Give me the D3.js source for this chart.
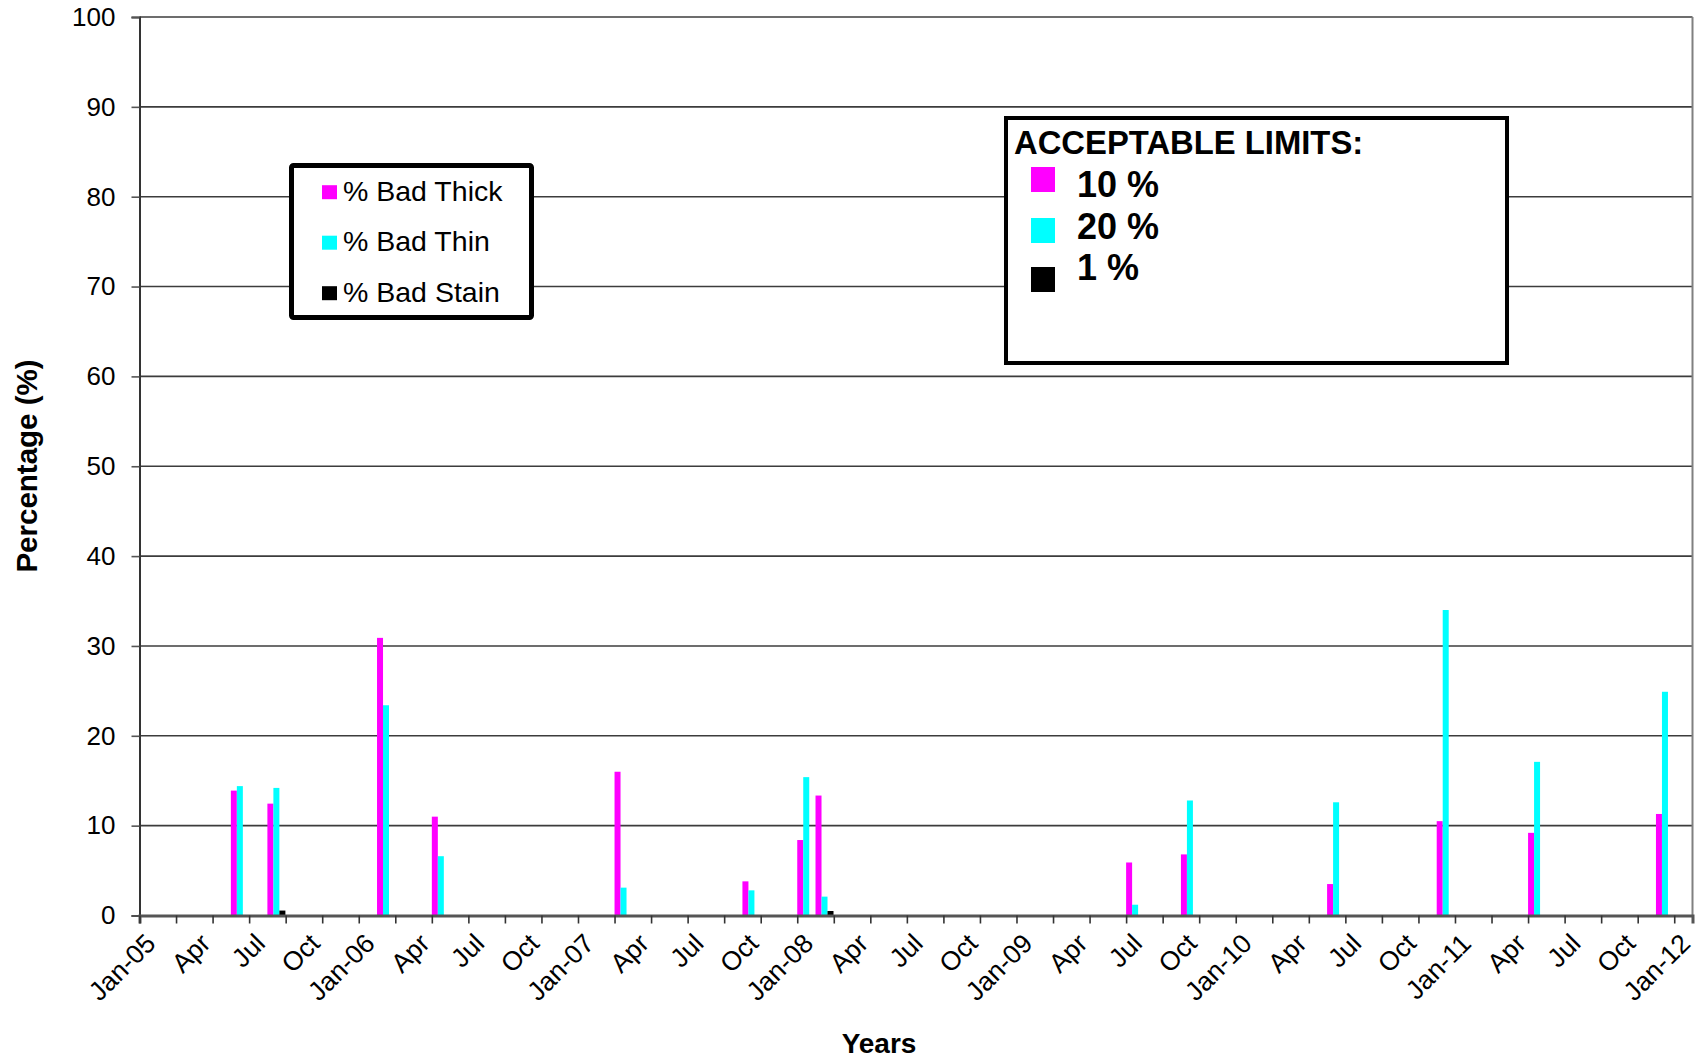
<!DOCTYPE html>
<html>
<head>
<meta charset="utf-8">
<script src="https://cdn.jsdelivr.net/npm/d3@7"></script>
<style>
  html, body { margin: 0; padding: 0; background: #fff; }
  svg { display: block; font-family: "Liberation Sans", Arial, sans-serif; }
</style>
</head>
<body>
<svg id="chart" width="1704" height="1062"></svg>
<script>
// ---------- data ----------
const seriesNames = ["% Bad Thick", "% Bad Thin", "% Bad Stain"];
const seriesColors = ["#FF00FF", "#00FFFF", "#000000"];
const sampleMonths = ["2005-06","2005-08","2006-02","2006-05","2007-03","2007-10","2008-01",
                      "2008-02","2009-07","2009-10","2010-06","2010-12","2011-05","2011-12"];
const badThick = [13.9, 12.45, 30.9, 11.0, 16.0, 3.8, 8.4, 13.35, 5.9, 6.8, 3.5, 10.5, 9.2, 11.3];
const badThin  = [14.4, 14.2, 23.4, 6.6, 3.1, 2.8, 15.4, 2.1, 1.2, 12.8, 12.6, 34.0, 17.1, 24.9];
const badStain = [0, 0.55, 0, 0, 0, 0, 0, 0.5, 0, 0, 0, 0, 0, 0];
const xTickLabels = ["Jan-05","Apr","Jul","Oct","Jan-06","Apr","Jul","Oct","Jan-07","Apr","Jul","Oct",
                     "Jan-08","Apr","Jul","Oct","Jan-09","Apr","Jul","Oct","Jan-10","Apr","Jul","Oct",
                     "Jan-11","Apr","Jul","Oct","Jan-12"];
const yTicks = [0,10,20,30,40,50,60,70,80,90,100];
const limitLabels = ["10 %", "20 %", "1 %"];

// ---------- layout ----------
const svg = d3.select("#chart");
const L = 139.5, R = 1692.5, T = 17, B = 915.5;
const fmt = d3.timeFormat("%Y-%m");
const monthKeys = d3.timeMonth.range(new Date(2005, 0, 1), new Date(2012, 1, 1)).map(fmt); // 85 categories

const x = d3.scaleBand().domain(monthKeys).range([L, R]).paddingInner(0).paddingOuter(0);
const xIdx = d3.scaleLinear().domain([0, monthKeys.length]).range([L, R]);
const xSub = d3.scaleBand().domain(seriesNames).range([0, x.bandwidth() * 0.985]).padding(0);
const y = d3.scaleLinear().domain([0, 100]).range([B, T]);

// gridlines
svg.append("g").selectAll("line").data(yTicks.filter(d => d > 0)).join("line")
  .attr("x1", L).attr("x2", R)
  .attr("y1", d => y(d)).attr("y2", d => y(d))
  .attr("stroke", "#3c3c3c").attr("stroke-width", 1.6);

// right border
svg.append("line").attr("x1", R).attr("x2", R).attr("y1", T).attr("y2", B)
  .attr("stroke", "#808080").attr("stroke-width", 2);

// bars
const rows = sampleMonths.map((m, i) => ({ m, vals: [badThick[i], badThin[i], badStain[i]] }));
const gBars = svg.append("g");
rows.forEach(r => {
  gBars.selectAll(null).data(r.vals.map((v, k) => ({ k, v }))).join("rect")
    .attr("x", d => x(r.m) + xSub(seriesNames[d.k]))
    .attr("width", xSub.bandwidth())
    .attr("y", d => y(d.v))
    .attr("height", d => B - y(d.v))
    .attr("fill", d => seriesColors[d.k]);
});

// y axis
const yAxis = svg.append("g").attr("transform", `translate(${L},0)`)
  .call(d3.axisLeft(y).tickValues(yTicks).tickSize(8).tickPadding(16).tickFormat(d3.format("d")));
yAxis.select(".domain").attr("stroke", "#333").attr("stroke-width", 2);
yAxis.selectAll(".tick line").attr("stroke", "#555").attr("stroke-width", 1.6);
yAxis.selectAll(".tick text").attr("font-size", 26).attr("fill", "#000")
  .attr("font-family", "Liberation Sans, Arial, sans-serif");

// x axis (ticks every 2 months)
const xAxis = svg.append("g").attr("transform", `translate(0,${B})`)
  .call(d3.axisBottom(xIdx).tickValues(d3.range(0, monthKeys.length, 2)).tickSize(8).tickFormat(""));
xAxis.select(".domain").attr("stroke", "#555").attr("stroke-width", 3);
xAxis.selectAll(".tick line").attr("stroke", "#333").attr("stroke-width", 1.6);

// x labels every 3 months (centered in categories)
const labelKeys = monthKeys.filter((d, i) => i % 3 === 0);
svg.append("g").selectAll("text").data(labelKeys).join("text")
  .attr("transform", (d, i) => `translate(${x(d) + x.bandwidth() / 2 - 5},${B + 16}) rotate(-45)`)
  .attr("text-anchor", "end").attr("dy", "0.72em")
  .attr("font-size", 26.5).attr("fill", "#000")
  .text((d, i) => xTickLabels[i]);

// axis titles
svg.append("text").attr("x", 879).attr("y", 1053).attr("text-anchor", "middle")
  .attr("font-size", 28).attr("font-weight", "bold").text("Years");
svg.append("text").attr("transform", "translate(37,466) rotate(-90)").attr("text-anchor", "middle")
  .attr("font-size", 29.5).attr("font-weight", "bold").text("Percentage (%)");

// legend 1
const lg = svg.append("g");
lg.append("rect").attr("x", 291.5).attr("y", 165.5).attr("width", 240).attr("height", 152)
  .attr("rx", 2).attr("fill", "#fff").attr("stroke", "#000").attr("stroke-width", 5);
seriesNames.forEach((n, i) => {
  const by = 200.7 + i * 50.5;
  lg.append("rect").attr("x", 322).attr("y", by - 15.5).attr("width", 15).attr("height", 14)
    .attr("fill", seriesColors[i]);
  lg.append("text").attr("x", 343).attr("y", by).attr("font-size", 28.5).attr("fill", "#000").text(n);
});

// legend 2 (acceptable limits)
const lg2 = svg.append("g");
lg2.append("rect").attr("x", 1006).attr("y", 118).attr("width", 501).attr("height", 245)
  .attr("fill", "#fff").attr("stroke", "#000").attr("stroke-width", 4);
lg2.append("text").attr("x", 1014).attr("y", 154).attr("font-size", 32.8).attr("font-weight", "bold")
  .text("ACCEPTABLE LIMITS:");
const swY = [167, 218, 267], txY = [197, 238.5, 280];
limitLabels.forEach((t, i) => {
  lg2.append("rect").attr("x", 1031).attr("y", swY[i]).attr("width", 24).attr("height", 25)
    .attr("fill", seriesColors[i]);
  lg2.append("text").attr("x", 1077).attr("y", txY[i]).attr("font-size", 36).attr("font-weight", "bold")
    .text(t);
});
</script>
</body>
</html>
